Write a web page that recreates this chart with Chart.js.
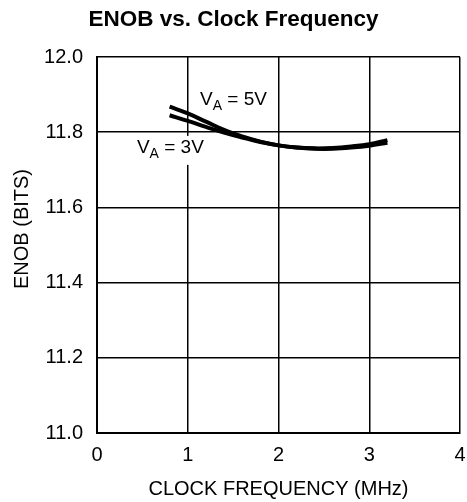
<!DOCTYPE html>
<html>
<head>
<meta charset="utf-8">
<script src="https://cdn.jsdelivr.net/npm/chart.js@4.4.1/dist/chart.umd.min.js"></script>
<style>
  html, body { margin: 0; padding: 0; background: #fff; }
  #wrap { width: 467px; height: 502px; }
</style>
</head>
<body>
<div id="wrap"><canvas id="chart"></canvas></div>
<script>
// clock frequency (MHz)
const FREQ = [0.8, 1.0, 1.2, 1.4, 1.6, 1.8, 2.0, 2.2, 2.4, 2.6, 2.8, 3.0, 3.2];
// ENOB (bits)
const ENOB_5V = [11.868, 11.850, 11.828, 11.806, 11.789, 11.775, 11.765, 11.759, 11.757, 11.758, 11.762, 11.768, 11.779];
const ENOB_3V = [11.845, 11.830, 11.814, 11.799, 11.786, 11.774, 11.765, 11.759, 11.756, 11.756, 11.759, 11.764, 11.772];
const X_TICKS = [0, 1, 2, 3, 4];
const Y_TICKS = [11.0, 11.2, 11.4, 11.6, 11.8, 12.0];
// curve labels
const LABELS = [
    { x: 1.135, y: 11.872, main: 'V', sub: 'A', rest: ' = 5V', box: false },
    { x: 0.44, y: 11.745, main: 'V', sub: 'A', rest: ' = 3V', box: true },
];

const FONT = 'Liberation Sans, Arial, Helvetica, sans-serif';

const toPoints = (xs, ys) => xs.map((x, i) => ({ x: x, y: ys[i] }));

const curveLabels = {
    id: 'curveLabels',
    afterDatasetsDraw(chart) {
        const ctx = chart.ctx;
        const xs = chart.scales.x, ys = chart.scales.y;
        ctx.save();
        ctx.fillStyle = '#000';
        ctx.textBaseline = 'alphabetic';
        LABELS.forEach(l => {
            const px = xs.getPixelForValue(l.x);
            const py = ys.getPixelForValue(l.y);
            ctx.font = '19px ' + FONT;
            const w1 = ctx.measureText(l.main).width;
            const w3 = ctx.measureText(l.rest).width;
            ctx.font = '14px ' + FONT;
            const w2 = ctx.measureText(l.sub).width;
            if (l.box) {
                ctx.fillStyle = '#fff';
                ctx.fillRect(px - 2, py - 17, w1 + w2 + w3 + 4, 29);
                ctx.fillStyle = '#000';
            }
            ctx.font = '19px ' + FONT;
            ctx.fillText(l.main, px, py);
            ctx.font = '14px ' + FONT;
            ctx.fillText(l.sub, px + w1, py + 5);
            ctx.font = '19px ' + FONT;
            ctx.fillText(l.rest, px + w1 + w2, py);
        });
        // y axis title
        ctx.font = '20px ' + FONT;
        ctx.textAlign = 'center';
        ctx.textBaseline = 'middle';
        ctx.translate(22, 229);
        ctx.rotate(-Math.PI / 2);
        ctx.fillText('ENOB (BITS)', 0, 0);
        ctx.restore();
    }
};

new Chart(document.getElementById('chart'), {
    type: 'scatter',
    data: {
        datasets: [
            {
                label: 'VA = 5V',
                data: toPoints(FREQ, ENOB_5V),
                showLine: true,
                borderColor: '#000',
                borderWidth: 4,
                pointRadius: 0,
                tension: 0.4,
            },
            {
                label: 'VA = 3V',
                data: toPoints(FREQ, ENOB_3V),
                showLine: true,
                borderColor: '#000',
                borderWidth: 4,
                pointRadius: 0,
                tension: 0.4,
            },
        ]
    },
    options: {
        responsive: true,
        maintainAspectRatio: false,
        animation: false,
        layout: { padding: 0 },
        scales: {
            x: {
                type: 'linear',
                min: 0,
                max: 4,
                afterBuildTicks: s => { s.ticks = X_TICKS.map(v => ({ value: v })); },
                afterFit: s => { s.height = 69; s.paddingLeft = 0; s.paddingRight = 7; },
                ticks: { color: '#000', font: { family: FONT, size: 20 }, padding: 10, maxRotation: 0 },
                grid: { color: '#000', lineWidth: 1.5, drawTicks: false },
                border: { color: '#000', width: 2 },
                title: {
                    display: true,
                    text: 'CLOCK FREQUENCY (MHz)',
                    color: '#000',
                    font: { family: FONT, size: 20 },
                    padding: { top: 0, bottom: 1 },
                },
            },
            y: {
                type: 'linear',
                min: 11.0,
                max: 12.0,
                afterBuildTicks: s => { s.ticks = Y_TICKS.map(v => ({ value: v })); },
                afterFit: s => { s.width = 97; },
                ticks: {
                    color: '#000',
                    font: { family: FONT, size: 20 },
                    padding: 14,
                    callback: v => v.toFixed(1),
                },
                grid: { color: '#000', lineWidth: 1.5, drawTicks: false },
                border: { color: '#000', width: 2 },
            },
        },
        plugins: {
            legend: { display: false },
            tooltip: { enabled: false },
            title: {
                display: true,
                text: 'ENOB vs. Clock Frequency',
                color: '#000',
                font: { family: FONT, size: 22.5, weight: 'bold' },
                padding: { top: 6, bottom: 24 },
            },
        },
    },
    plugins: [curveLabels],
});
</script>
</body>
</html>
